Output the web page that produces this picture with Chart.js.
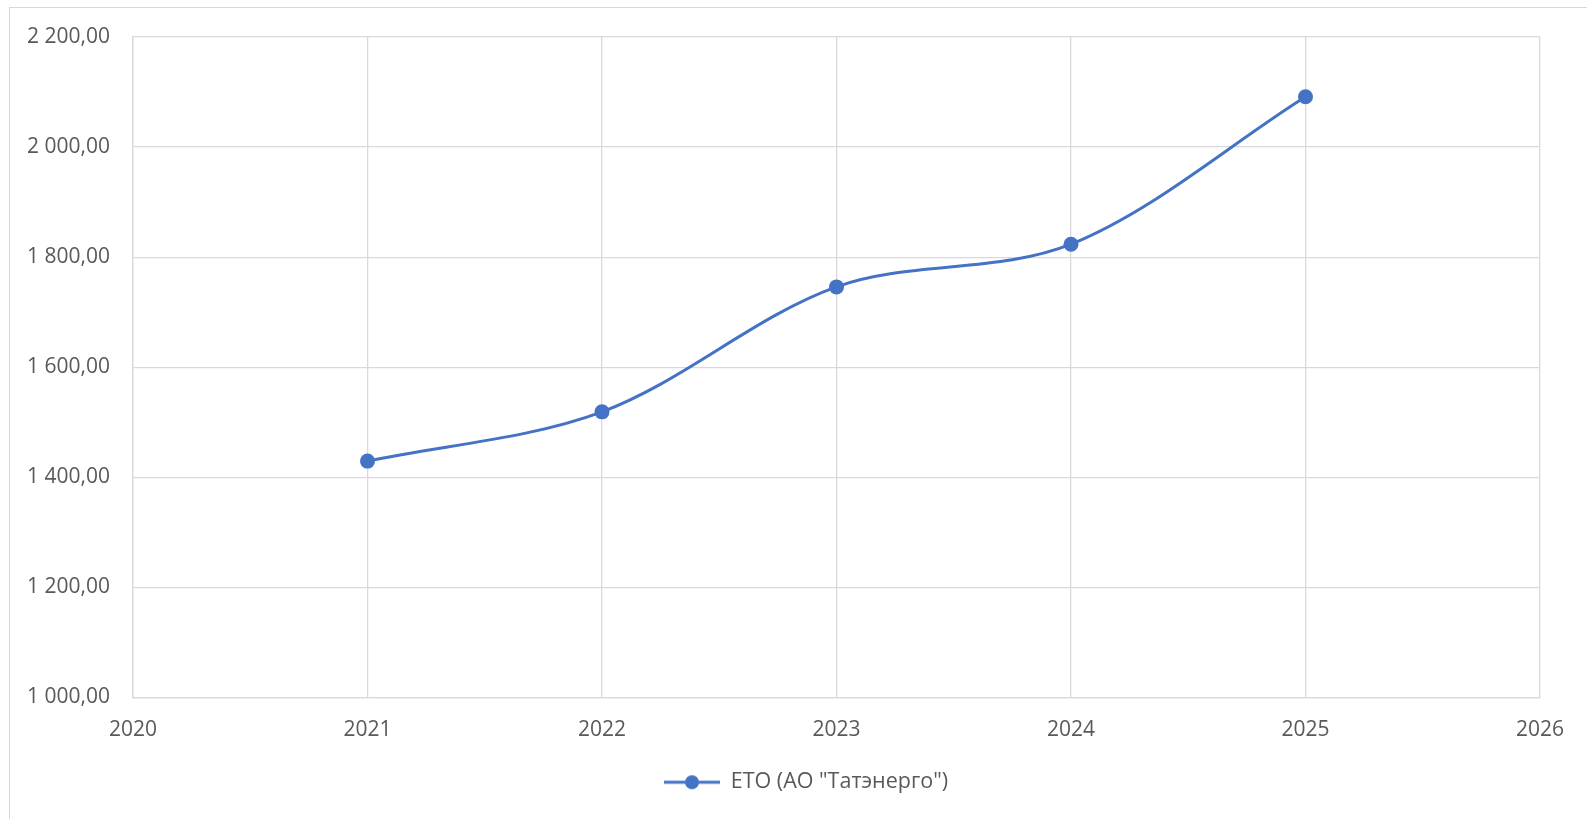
<!DOCTYPE html>
<html>
<head>
<meta charset="utf-8">
<script src="https://cdn.jsdelivr.net/npm/chart.js@4.4.1/dist/chart.umd.min.js"></script>
<style>
  html, body { margin: 0; padding: 0; background: #fff; overflow: hidden; }
  #frame { position: absolute; left: 9px; top: 7px; width: 2000px; height: 2000px; border: 1px solid #d9d9d9; }
  #wrap { position: absolute; left: 0; top: 0; width: 1587px; height: 819px; }
</style>
</head>
<body>
<div id="frame"></div>
<div id="wrap"><canvas id="myChart" width="1587" height="819"></canvas></div>
<script>
// data
const years = [2021, 2022, 2023, 2024, 2025];
const values = [1429.5, 1519, 1746, 1823.5, 2091.5];
const seriesName = 'ЕТО (АО "Татэнерго")';
const yTicks = [1000, 1200, 1400, 1600, 1800, 2000, 2200];
const xTicks = [2020, 2021, 2022, 2023, 2024, 2025, 2026];

const lineColor = '#4472C4';
const gridColor = '#d9d9d9';
const textColor = '#595959';

function fmt(v) {
	// 2 200,00
	var s = v.toFixed(2).split('.');
	var intPart = s[0].replace(/\B(?=(\d{3})+(?!\d))/g, ' ');
	return intPart + ',' + s[1];
}

// legend marker: line with a dot in the middle
// (empty room on the left pushes the legend item to the right, as in Excel)
var shift = 72;
var mark = document.createElement('canvas');
mark.width = 56 + shift; mark.height = 18;
var mc = mark.getContext('2d');
mc.strokeStyle = lineColor; mc.lineWidth = 3;
mc.beginPath(); mc.moveTo(shift, 9); mc.lineTo(shift + 56, 9); mc.stroke();
mc.fillStyle = lineColor;
mc.beginPath(); mc.arc(shift + 28, 9, 7, 0, Math.PI * 2); mc.fill();

const points = years.map((y, i) => ({ x: y, y: values[i] }));

new Chart("myChart", {
	type: "line",
	data: {
		datasets: [{
			label: seriesName,
			data: points,
			borderColor: lineColor,
			backgroundColor: lineColor,
			borderWidth: 3,
			pointRadius: 7.5,
			pointHoverRadius: 7.5,
			pointBorderWidth: 0,
			tension: 0.33,
			fill: false
		}]
	},
	options: {
		responsive: false,
		animation: false,
		devicePixelRatio: 1,
		layout: { padding: { left: 0, right: 47, top: 37, bottom: 16 } },
		scales: {
			x: {
				type: 'linear',
				min: 2020, max: 2026,
				afterBuildTicks: function(axis) { axis.ticks = xTicks.map(v => ({ value: v })); },
				afterFit: function(axis) { axis.height = 60; },
				grid: { color: gridColor, lineWidth: 1.3, drawTicks: false },
				border: { color: gridColor, width: 1.3 },
				ticks: {
					color: textColor,
					font: { family: 'Open Sans', size: 21 },
					padding: 20,
					maxRotation: 0,
					callback: v => String(v)
				}
			},
			y: {
				min: 1000, max: 2200,
				afterBuildTicks: function(axis) { axis.ticks = yTicks.map(v => ({ value: v })); },
				afterFit: function(axis) { axis.width = 133; },
				grid: { color: gridColor, lineWidth: 1.3, drawTicks: false },
				border: { color: gridColor, width: 1.3 },
				ticks: {
					color: textColor,
					font: { family: 'Open Sans', size: 21 },
					padding: 23,
					callback: v => fmt(v)
				}
			}
		},
		plugins: {
			legend: {
				position: 'bottom',
				labels: {
					color: textColor,
					font: { family: 'Open Sans', size: 21.5 },
					usePointStyle: true,
					pointStyleWidth: 56 + shift,
					padding: 14,
					generateLabels: function(chart) {
						return [{
							text: seriesName,
							pointStyle: mark,
							fillStyle: lineColor,
							strokeStyle: lineColor,
							lineWidth: 0,
							fontColor: textColor,
							datasetIndex: 0
						}];
					}
				}
			},
			tooltip: { enabled: false }
		}
	}
});
</script>
</body>
</html>
